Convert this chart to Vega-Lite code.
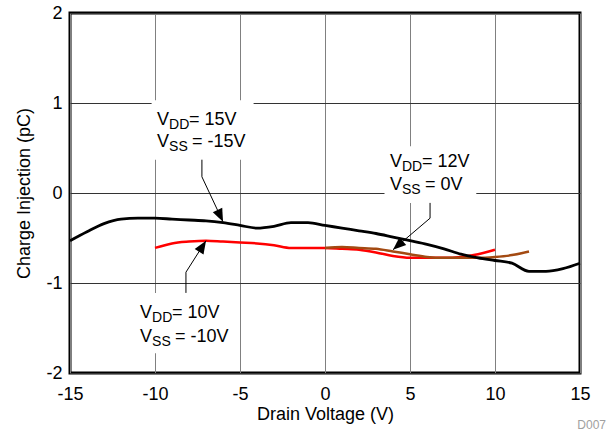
{
  "$schema": "https://vega.github.io/schema/vega-lite/v6.json",
  "width": 510,
  "height": 360,
  "autosize": "none",
  "padding": {"left": 70, "top": 13, "right": 28, "bottom": 61},
  "background": "white",
  "config": {
    "font": "Liberation Sans",
    "view": {"stroke": "#000000", "strokeWidth": 3},
    "axis": {
      "domain": false,
      "ticks": false,
      "labelFlush": false,
      "labelFontSize": 18,
      "labelColor": "#000000",
      "labelExpr": "'' + datum.value",
      "titleFontSize": 18,
      "titleFontWeight": "normal",
      "titleColor": "#000000",
      "gridWidth": 1
    }
  },
  "title": {
    "text": "D007",
    "orient": "bottom",
    "anchor": "end",
    "frame": "group",
    "fontSize": 12,
    "fontWeight": "normal",
    "color": "#a0a0a0",
    "offset": -3,
    "dx": 26
  },
  "datasets": {
    "curves": [
      {"series": "15", "x": -15, "y": -0.53},
      {"series": "15", "x": -14, "y": -0.43},
      {"series": "15", "x": -13, "y": -0.34},
      {"series": "15", "x": -12, "y": -0.29},
      {"series": "15", "x": -11, "y": -0.28},
      {"series": "15", "x": -10, "y": -0.28},
      {"series": "15", "x": -9, "y": -0.29},
      {"series": "15", "x": -8, "y": -0.3},
      {"series": "15", "x": -7, "y": -0.31},
      {"series": "15", "x": -6, "y": -0.33},
      {"series": "15", "x": -5, "y": -0.36},
      {"series": "15", "x": -4, "y": -0.39},
      {"series": "15", "x": -3, "y": -0.37},
      {"series": "15", "x": -2, "y": -0.33},
      {"series": "15", "x": -1, "y": -0.33},
      {"series": "15", "x": 0, "y": -0.36},
      {"series": "15", "x": 1, "y": -0.39},
      {"series": "15", "x": 2, "y": -0.42},
      {"series": "15", "x": 3, "y": -0.45},
      {"series": "15", "x": 4, "y": -0.49},
      {"series": "15", "x": 5, "y": -0.53},
      {"series": "15", "x": 6, "y": -0.57},
      {"series": "15", "x": 7, "y": -0.62},
      {"series": "15", "x": 8, "y": -0.68},
      {"series": "15", "x": 9, "y": -0.72},
      {"series": "15", "x": 10, "y": -0.75},
      {"series": "15", "x": 11, "y": -0.78},
      {"series": "15", "x": 12, "y": -0.87},
      {"series": "15", "x": 13, "y": -0.87},
      {"series": "15", "x": 14, "y": -0.84},
      {"series": "15", "x": 15, "y": -0.78},
      {"series": "10", "x": -10, "y": -0.61},
      {"series": "10", "x": -9, "y": -0.56},
      {"series": "10", "x": -8, "y": -0.54},
      {"series": "10", "x": -7, "y": -0.53},
      {"series": "10", "x": -6, "y": -0.54},
      {"series": "10", "x": -5, "y": -0.55},
      {"series": "10", "x": -4, "y": -0.56},
      {"series": "10", "x": -3, "y": -0.58},
      {"series": "10", "x": -2, "y": -0.61},
      {"series": "10", "x": -1, "y": -0.61},
      {"series": "10", "x": 0, "y": -0.61},
      {"series": "10", "x": 1, "y": -0.62},
      {"series": "10", "x": 2, "y": -0.63},
      {"series": "10", "x": 3, "y": -0.66},
      {"series": "10", "x": 4, "y": -0.7},
      {"series": "10", "x": 5, "y": -0.72},
      {"series": "10", "x": 6, "y": -0.72},
      {"series": "10", "x": 7, "y": -0.72},
      {"series": "10", "x": 8, "y": -0.71},
      {"series": "10", "x": 9, "y": -0.68},
      {"series": "10", "x": 10, "y": -0.63},
      {"series": "12", "x": 0, "y": -0.61},
      {"series": "12", "x": 1, "y": -0.6},
      {"series": "12", "x": 2, "y": -0.61},
      {"series": "12", "x": 3, "y": -0.62},
      {"series": "12", "x": 4, "y": -0.65},
      {"series": "12", "x": 5, "y": -0.68},
      {"series": "12", "x": 6, "y": -0.71},
      {"series": "12", "x": 7, "y": -0.72},
      {"series": "12", "x": 8, "y": -0.72},
      {"series": "12", "x": 9, "y": -0.72},
      {"series": "12", "x": 10, "y": -0.71},
      {"series": "12", "x": 11, "y": -0.69},
      {"series": "12", "x": 12, "y": -0.65}
    ],
    "boxes": [
      {"x": -10.2, "x2": -4.2, "y": 1.03, "y2": 0.37},
      {"x": 3.5, "x2": 8.9, "y": 0.52, "y2": -0.11},
      {"x": -11.2, "x2": -5.2, "y": -1.11, "y2": -1.78}
    ],
    "arrows": [
      {"id": "top", "seq": 0, "x": -7.24, "y": 0.37},
      {"id": "top", "seq": 1, "x": -7.24, "y": 0.18},
      {"id": "top", "seq": 2, "x": -6.0, "y": -0.32},
      {"id": "right", "seq": 0, "x": 6.18, "y": -0.11},
      {"id": "right", "seq": 1, "x": 6.18, "y": -0.28},
      {"id": "right", "seq": 2, "x": 4.0, "y": -0.63},
      {"id": "bottom", "seq": 0, "x": -8.18, "y": -1.11},
      {"id": "bottom", "seq": 1, "x": -8.18, "y": -0.88},
      {"id": "bottom", "seq": 2, "x": -7.0, "y": -0.53}
    ],
    "heads": [
      {"id": "top", "x": -6.0, "y": -0.32},
      {"id": "right", "x": 4.0, "y": -0.63},
      {"id": "bottom", "x": -7.0, "y": -0.53}
    ],
    "labels": [
      {"x": -9.88, "y": 0.756, "sub": "DD", "rest": "= 15V"},
      {"x": -9.88, "y": 0.511, "sub": "SS", "rest": "= -15V"},
      {"x": 3.82, "y": 0.289, "sub": "DD", "rest": "= 12V"},
      {"x": 3.82, "y": 0.033, "sub": "SS", "rest": "= 0V"},
      {"x": -10.88, "y": -1.389, "sub": "DD", "rest": "= 10V"},
      {"x": -10.88, "y": -1.656, "sub": "SS", "rest": "= -10V"}
    ]
  },
  "encoding": {
    "x": {
      "field": "x",
      "type": "quantitative",
      "scale": {"domain": [-15, 15], "nice": false, "zero": false},
      "axis": {
        "title": "Drain Voltage (V)",
        "values": [-15, -10, -5, 0, 5, 10, 15],
        "gridColor": "#808080",
        "labelPadding": 12,
        "titlePadding": 2
      }
    },
    "y": {
      "field": "y",
      "type": "quantitative",
      "scale": {"domain": [-2, 2], "nice": false, "zero": false},
      "axis": {
        "title": "Charge Injection (pC)",
        "values": [-2, -1, 0, 1, 2],
        "gridColor": "#333333",
        "labelPadding": 8,
        "titlePadding": 12
      }
    }
  },
  "layer": [
    {
      "data": {"name": "boxes"},
      "mark": {"type": "rect", "fill": "white", "stroke": null},
      "encoding": {"x2": {"field": "x2"}, "y2": {"field": "y2"}}
    },
    {
      "data": {"name": "curves"},
      "transform": [{"filter": "datum.series === '10'"}],
      "mark": {"type": "line", "color": "#ff0000", "strokeWidth": 2.5, "interpolate": "monotone"},
      "encoding": {}
    },
    {
      "data": {"name": "curves"},
      "transform": [{"filter": "datum.series === '12'"}],
      "mark": {"type": "line", "color": "#a34a12", "strokeWidth": 2.5, "interpolate": "monotone"},
      "encoding": {}
    },
    {
      "data": {"name": "curves"},
      "transform": [{"filter": "datum.series === '15'"}],
      "mark": {"type": "line", "color": "#000000", "strokeWidth": 2.8, "interpolate": "monotone"},
      "encoding": {}
    },
    {
      "data": {"name": "arrows"},
      "mark": {"type": "line", "color": "#000000", "strokeWidth": 1},
      "encoding": {"detail": {"field": "id"}, "order": {"field": "seq", "type": "quantitative"}}
    },
    {
      "data": {"name": "heads"},
      "transform": [{"filter": "datum.id === 'top'"}],
      "mark": {"type": "point", "shape": "M0,0L-0.8,2L0.8,2Z", "filled": true, "color": "#000000", "size": 169, "angle": 155, "opacity": 1},
      "encoding": {}
    },
    {
      "data": {"name": "heads"},
      "transform": [{"filter": "datum.id === 'right'"}],
      "mark": {"type": "point", "shape": "M0,0L-0.8,2L0.8,2Z", "filled": true, "color": "#000000", "size": 169, "angle": 229, "opacity": 1},
      "encoding": {}
    },
    {
      "data": {"name": "heads"},
      "transform": [{"filter": "datum.id === 'bottom'"}],
      "mark": {"type": "point", "shape": "M0,0L-0.8,2L0.8,2Z", "filled": true, "color": "#000000", "size": 169, "angle": 32, "opacity": 1},
      "encoding": {}
    },
    {
      "data": {"name": "labels"},
      "mark": {"type": "text", "text": "V", "align": "left", "baseline": "alphabetic", "fontSize": 18, "color": "#000000"},
      "encoding": {}
    },
    {
      "data": {"name": "labels"},
      "mark": {"type": "text", "align": "left", "baseline": "alphabetic", "fontSize": 14, "dx": 12, "dy": 4, "color": "#000000"},
      "encoding": {"text": {"field": "sub"}}
    },
    {
      "data": {"name": "labels"},
      "transform": [{"filter": "datum.sub === 'DD'"}],
      "mark": {"type": "text", "align": "left", "baseline": "alphabetic", "fontSize": 18, "dx": 32, "color": "#000000"},
      "encoding": {"text": {"field": "rest"}}
    },
    {
      "data": {"name": "labels"},
      "transform": [{"filter": "datum.sub === 'SS'"}],
      "mark": {"type": "text", "align": "left", "baseline": "alphabetic", "fontSize": 18, "dx": 35, "color": "#000000"},
      "encoding": {"text": {"field": "rest"}}
    }
  ]
}
